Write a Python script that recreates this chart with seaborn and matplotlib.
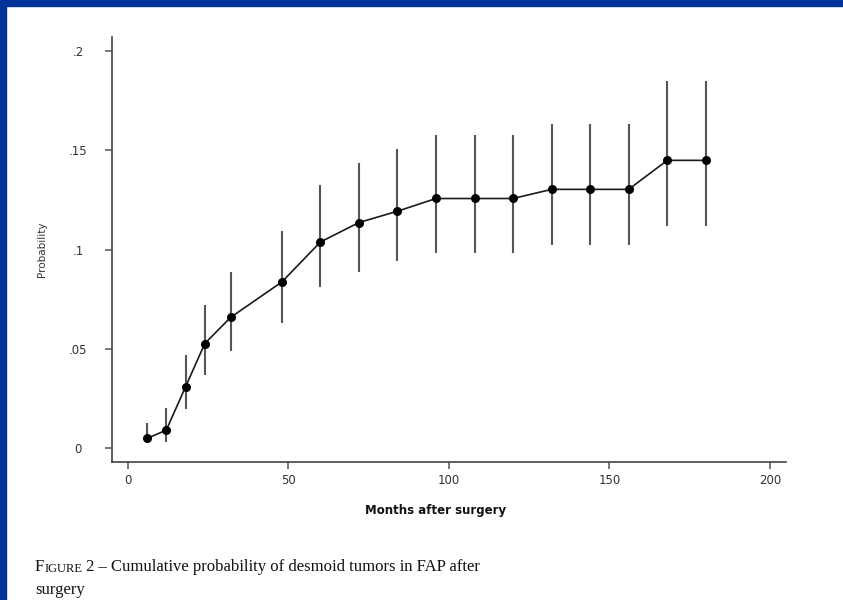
import numpy as np
import pandas as pd
import seaborn as sns
import matplotlib.pyplot as plt
from matplotlib.patches import Rectangle

# valores
months = [6, 12, 18, 24, 32, 48, 60, 72, 84, 96, 108, 120, 132, 144, 156, 168, 180]
prob = [0.005, 0.0092, 0.031, 0.0528, 0.0659, 0.0838, 0.1039, 0.1137, 0.1194,
        0.1258, 0.1258, 0.1258, 0.1304, 0.1304, 0.1304, 0.145, 0.145]
lower = [0.0025, 0.0033, 0.0196, 0.0369, 0.0491, 0.0632, 0.0813, 0.0888, 0.0942,
         0.0986, 0.0986, 0.0986, 0.1026, 0.1026, 0.1026, 0.112, 0.112]
upper = [0.0129, 0.0201, 0.0469, 0.0721, 0.0887, 0.1093, 0.1328, 0.1439, 0.1506,
         0.1576, 0.1576, 0.1576, 0.1635, 0.1635, 0.1635, 0.1849, 0.1849]

xticks = [0, 50, 100, 150, 200]
yticks = [0, 0.05, 0.1, 0.15, 0.2]
ytick_labels = ['0', '.05', '.1', '.15', '.2']

df = pd.DataFrame({'Months': months, 'Probability': prob, 'lo': lower, 'hi': upper})

sns.set_style('ticks')
plt.rcParams['font.family'] = ['DejaVu Sans']

fig = plt.figure(figsize=(8.43, 6), dpi=100)
ax = fig.add_axes([0.1325, 0.2305, 0.7999, 0.7075])

ax.vlines(df['Months'], df['lo'], df['hi'], color='#555555', linewidth=1.5, zorder=2)
sns.lineplot(data=df, x='Months', y='Probability', ax=ax, color='#1a1a1a',
             linewidth=1.2, marker='o', markersize=6.5, markeredgewidth=0,
             markerfacecolor='black', zorder=3)

ax.set_xlim(-5, 205)
ax.set_ylim(-0.0067, 0.207)
ax.set_xticks(xticks)
ax.set_xticklabels([str(t) for t in xticks])
ax.set_yticks(yticks)
ax.set_yticklabels(ytick_labels)

sns.despine(ax=ax)
for s in ['left', 'bottom']:
    ax.spines[s].set_color('#444444')
    ax.spines[s].set_linewidth(1.2)

ax.tick_params(axis='both', direction='out', length=5, width=1.1, color='#555555',
               labelsize=8.5, labelcolor='#333333')
ax.tick_params(axis='x', pad=4)
ax.tick_params(axis='y', pad=19)
for lab in ax.get_yticklabels():
    lab.set_horizontalalignment('center')

ax.set_xlabel('Months after surgery', fontsize=8.5, fontweight='bold', color='#111111')
ax.set_ylabel('Probability', fontsize=7.5, color='#333333')
ax.xaxis.set_label_coords(0.481, -0.099)
ax.yaxis.set_label_coords(-0.096, 0.5)

# legenda da figura
t1 = fig.text(35 / 843, 1 - 571 / 600, 'F', fontsize=12, family='Liberation Serif',
              va='baseline', ha='left', color='#111111')
t2 = ax.annotate('IGURE', xy=(1, 0), xycoords=t1, fontsize=9,
                 family='Liberation Serif', va='bottom', ha='left', color='#111111',
                 annotation_clip=False)
ax.annotate(' 2 \u2013 Cumulative probability of desmoid tumors in FAP after',
            xy=(1, 0), xycoords=t2, fontsize=12, family='Liberation Serif',
            va='bottom', ha='left', color='#111111', annotation_clip=False)
fig.text(35 / 843, 1 - 594 / 600, 'surgery', fontsize=12, family='Liberation Serif',
         va='baseline', ha='left', color='#111111')

# moldura azul
fig.patches.append(Rectangle((0, 0), 6 / 843, 1, transform=fig.transFigure,
                             color='#003399', zorder=10))
fig.patches.append(Rectangle((0, 1 - 6 / 600), 1, 6 / 600, transform=fig.transFigure,
                             color='#003399', zorder=10))

fig.savefig('out.png', dpi=100, facecolor='white')
